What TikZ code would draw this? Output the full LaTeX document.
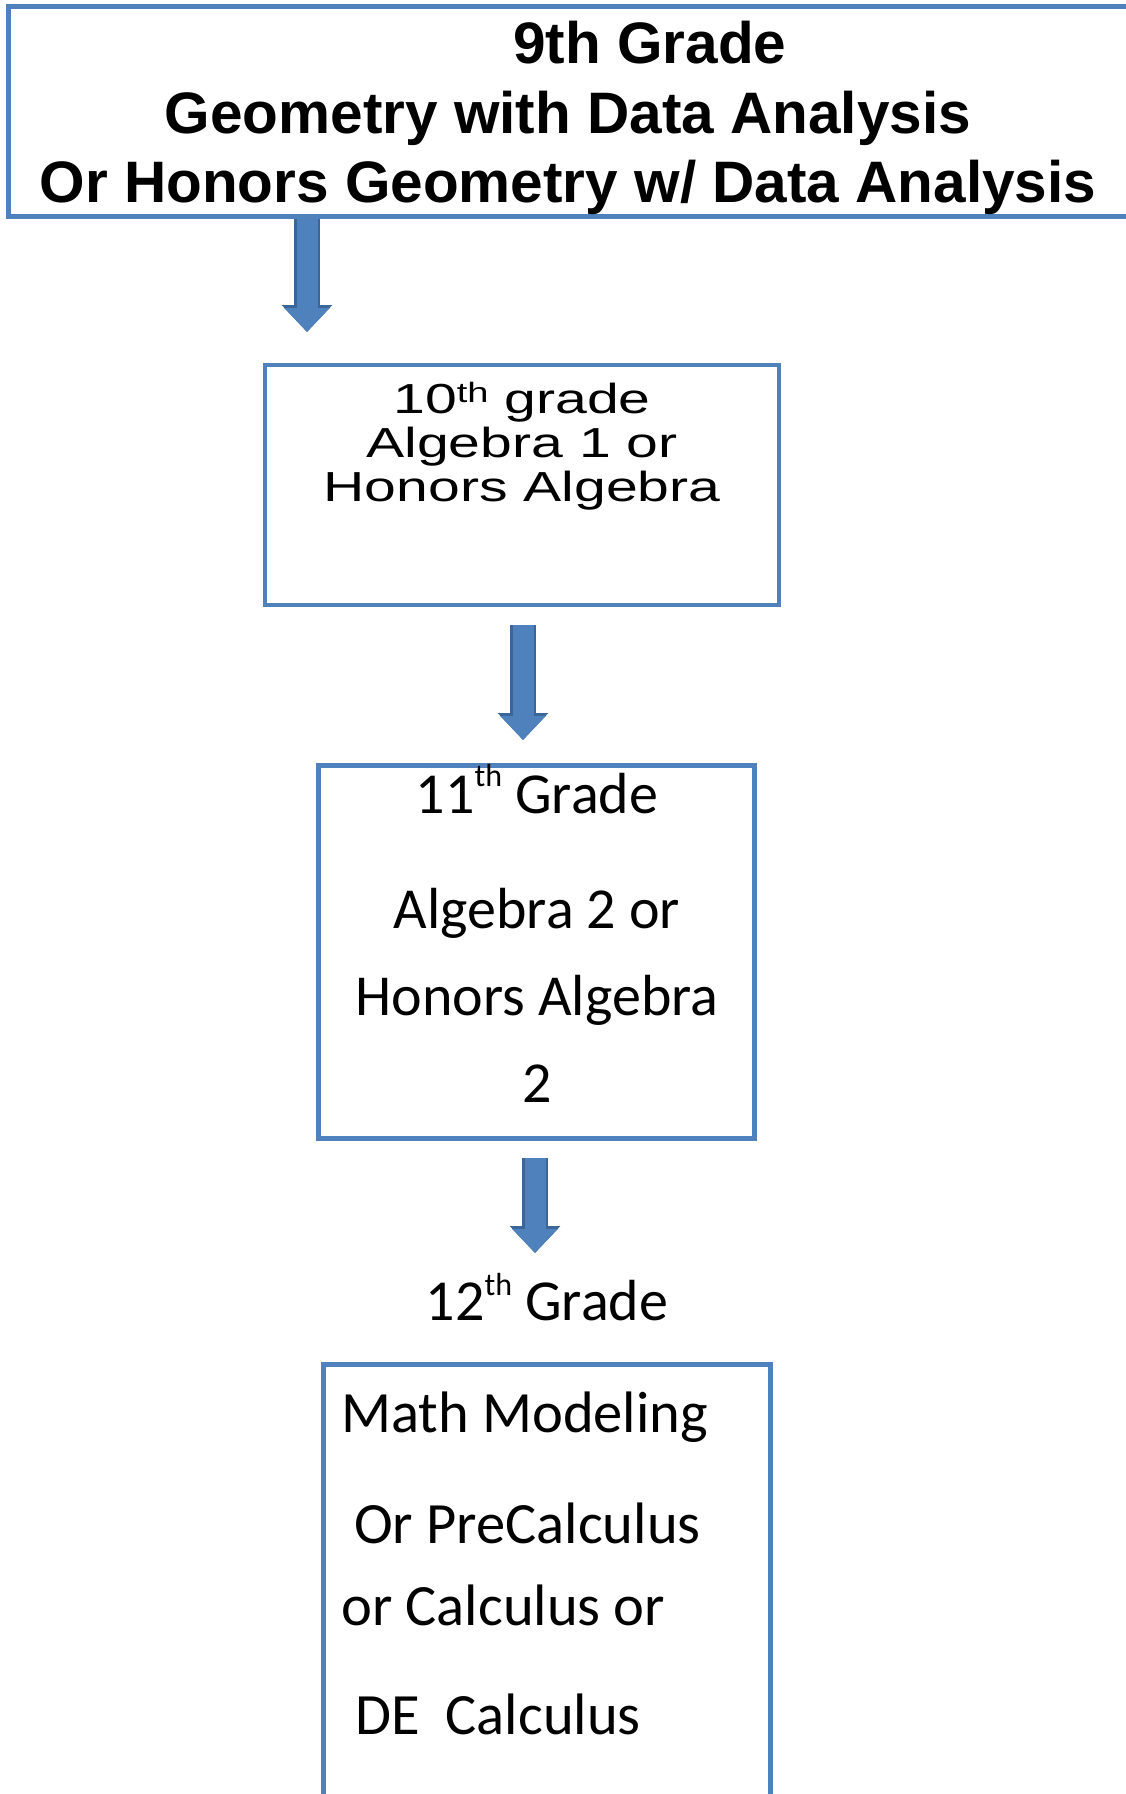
\documentclass[tikz,border=0pt]{standalone}
\usepackage{fontspec}
\setmainfont{Carlito}
\newfontfamily\arialfont{Liberation Sans}
\newfontfamily\widearial[FakeStretch=1.36]{Liberation Sans}
\usepackage{tikz}
\usetikzlibrary{arrows.meta, positioning}
\definecolor{boxblue}{HTML}{4F81BD}
\definecolor{arrowblue}{HTML}{4F81BD}
\definecolor{arrowedge}{HTML}{3A6699}
\newcommand{\supth}[2]{\raisebox{#1}{\fontsize{#2}{#2}\selectfont th}}
\tikzstyle{gradebox} = [rectangle, draw=boxblue, line width=5pt, inner sep=0pt]
\tikzstyle{gradetext} = [inner sep=0pt, anchor=north, align=center]
\tikzstyle{blockarrow} = [line width=21pt, draw=arrowblue, -{Triangle[width=44pt,length=24pt]},
    preaction={draw=arrowedge, line width=26pt, -{Triangle[width=49pt,length=27pt]}}]

\begin{document}
\begin{tikzpicture}[x=1pt, y=-1pt]
    \useasboundingbox (0,0) rectangle (1125,1794);

    % 9th grade
    \node (g9box) [gradebox, minimum width=1120pt, minimum height=210pt] at (568,111) {};
    \node (g9text) [gradetext, font=\arialfont\bfseries\fontsize{58.5}{69.5}\selectfont] at (568,21)
        {\hspace*{164pt}9th Grade\\Geometry with Data Analysis\\Or Honors Geometry w/ Data Analysis};

    % 10th grade
    \node (g10box) [gradebox, line width=3.5pt, minimum width=514pt, minimum height=240pt] at (522,485) {};
    \node (g10text) [gradetext, font=\widearial\fontsize{42}{44}\selectfont] at (522,382)
        {10\supth{11pt}{28pt} grade\\Algebra 1 or\\Honors Algebra};

    % 11th grade
    \node (g11box) [gradebox, minimum width=436pt, minimum height=373pt] at (536,951.5) {};
    \node (g11text) [gradetext, font=\fontsize{58}{87}\selectfont] at (537,764)
        {11\supth{27pt}{32pt} Grade\\[28pt]Algebra 2 or\\Honors Algebra\\2};

    % 12th grade
    \node (g12text) [inner sep=0pt, anchor=base, font=\fontsize{58}{87}\selectfont] at (547,1320) {12\supth{25pt}{32pt} Grade};
    \node (g12box) [gradebox, minimum width=447pt, minimum height=446pt] at (546.5,1587) {};
    \node (g12list) [gradetext, anchor=north west, align=left, font=\fontsize{58.5}{82}\selectfont] at (341,1392)
        {Math Modeling\\[29pt]\hspace*{13pt}Or PreCalculus\\or Calculus or\\[27pt]\hspace*{14pt}DE\hspace{26pt}Calculus};

    % Flechas
    \coordinate (a1tip) at (307,332);
    \coordinate (a2top) at (523,625);
    \coordinate (a2tip) at (523,740);
    \coordinate (a3top) at (535,1158);
    \coordinate (a3tip) at (535,1253);
    \draw [blockarrow] (g9box.south -| a1tip) -- (a1tip);
    \draw [blockarrow] (a2top) -- (a2tip);
    \draw [blockarrow] (a3top) -- (a3tip);
\end{tikzpicture}
\end{document}
